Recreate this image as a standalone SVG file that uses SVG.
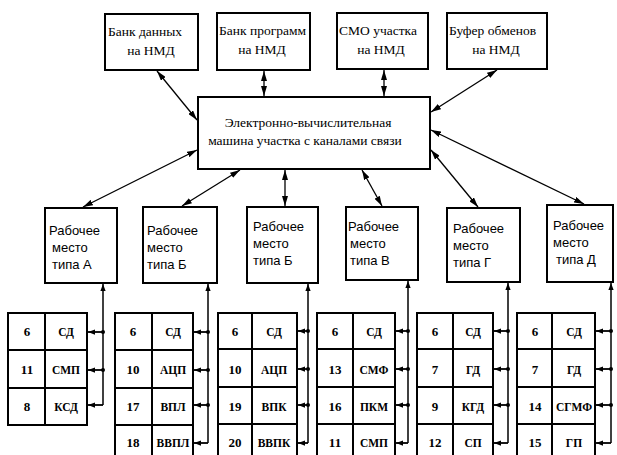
<svg xmlns="http://www.w3.org/2000/svg" width="617" height="455" viewBox="0 0 617 455">
  <defs>
    <marker id="ah" viewBox="0 0 10 6" refX="10" refY="3" markerWidth="10" markerHeight="6" markerUnits="userSpaceOnUse" orient="auto-start-reverse">
      <path d="M0,0 L10,3 L0,6 Z" fill="#000"/>
    </marker>
    <marker id="sh" viewBox="0 0 8 6" refX="8" refY="3" markerWidth="7" markerHeight="6" markerUnits="userSpaceOnUse" orient="auto">
      <path d="M0,0 L8,3 L0,6 Z" fill="#000"/>
    </marker>
  </defs>
  <style>
    .box { fill: #fff; stroke: #000; stroke-width: 2; }
    .cell { fill: #fff; stroke: #000; stroke-width: 2; }
    .link { fill: none; stroke: #000; stroke-width: 1.3; }
    .bus { fill: none; stroke: #000; stroke-width: 1.5; }
    .stub { fill: none; stroke: #000; stroke-width: 1.8; }
    .dot { fill: #000; }
    .t { font-family: "Liberation Serif", "DejaVu Serif", serif; font-size: 13.5px; fill: #000; }
    .tm { font-family: "Liberation Serif", "DejaVu Serif", serif; font-size: 13.5px; fill: #000; }
    .tw { font-family: "Liberation Sans", "DejaVu Sans", sans-serif; font-size: 13px; fill: #000; }
    .n { font-family: "Liberation Serif", "DejaVu Serif", serif; font-size: 13px; font-weight: bold; fill: #000; text-anchor: middle; }
    .c { font-family: "Liberation Serif", "DejaVu Serif", serif; font-size: 11.5px; font-weight: bold; fill: #000; text-anchor: middle; }
  </style>
  <rect width="617" height="455" fill="#fff"/>

  <!-- storage units -->
  <g id="bank-data">
    <rect class="box" x="105" y="14" width="93" height="56"/>
    <text class="t" x="108" y="36">Банк данных</text>
    <text class="t" x="151" y="55" text-anchor="middle">на НМД</text>
  </g>
  <g id="bank-programs">
    <rect class="box" x="217" y="13" width="93" height="57"/>
    <text class="t" x="219" y="35">Банк программ</text>
    <text class="t" x="262" y="54" text-anchor="middle">на НМД</text>
  </g>
  <g id="smo">
    <rect class="box" x="337" y="13" width="91" height="56"/>
    <text class="t" x="339" y="35">СМО участка</text>
    <text class="t" x="381" y="54" text-anchor="middle">на НМД</text>
  </g>
  <g id="buffer">
    <rect class="box" x="447" y="13" width="100" height="56"/>
    <text class="t" x="449" y="35">Буфер обменов</text>
    <text class="t" x="496" y="54" text-anchor="middle">на НМД</text>
  </g>

  <!-- central computer -->
  <g id="computer">
    <rect class="box" x="198" y="97" width="232" height="72"/>
    <text class="tm" x="308" y="127" text-anchor="middle">Электронно-вычислительная</text>
    <text class="tm" x="305" y="145" text-anchor="middle">машина участка с каналами связи</text>
  </g>

  <!-- workstations -->
  <g id="ws-a">
    <rect class="box" x="45" y="208" width="72" height="75"/>
    <text class="tw" x="49" y="235">Рабочее</text>
    <text class="tw" x="52" y="252">место</text>
    <text class="tw" x="52" y="269">типа А</text>
  </g>
  <g id="ws-b1">
    <rect class="box" x="143" y="207" width="74" height="76"/>
    <text class="tw" x="147" y="235">Рабочее</text>
    <text class="tw" x="147" y="252">место</text>
    <text class="tw" x="147" y="269">типа Б</text>
  </g>
  <g id="ws-b2">
    <rect class="box" x="247" y="207" width="71" height="76"/>
    <text class="tw" x="253" y="231">Рабочее</text>
    <text class="tw" x="253" y="248">место</text>
    <text class="tw" x="253" y="265">типа Б</text>
  </g>
  <g id="ws-v">
    <rect class="box" x="346" y="207" width="72" height="73"/>
    <text class="tw" x="348" y="231">Рабочее</text>
    <text class="tw" x="350" y="248">место</text>
    <text class="tw" x="350" y="265">типа В</text>
  </g>
  <g id="ws-g">
    <rect class="box" x="447" y="208" width="73" height="74"/>
    <text class="tw" x="453" y="233">Рабочее</text>
    <text class="tw" x="453" y="250">место</text>
    <text class="tw" x="453" y="267">типа Г</text>
  </g>
  <g id="ws-d">
    <rect class="box" x="547" y="205" width="66" height="77"/>
    <text class="tw" x="553" y="230">Рабочее</text>
    <text class="tw" x="553" y="247">место</text>
    <text class="tw" x="556" y="264">типа Д</text>
  </g>

  <!-- device tables -->
  <g id="dev-a">
    <rect class="cell" x="8" y="313" width="79" height="112"/>
    <path class="cell" d="M45,313 V425 M8,350 H87 M8,388 H87"/>
    <text class="n" x="27" y="336">6</text><text class="c" x="66" y="336">СД</text>
    <text class="n" x="27" y="374">11</text><text class="c" x="66" y="374">СМП</text>
    <text class="n" x="27" y="411">8</text><text class="c" x="66" y="411">КСД</text>
  </g>
  <g id="dev-b1">
    <path class="cell" d="M115,456 V313 H193 V456 M152,313 V456 M115,350 H193 M115,388 H193 M115,425 H193"/>
    <text class="n" x="133" y="336">6</text><text class="c" x="173" y="336">СД</text>
    <text class="n" x="133" y="374">10</text><text class="c" x="173" y="374">АЦП</text>
    <text class="n" x="133" y="411">17</text><text class="c" x="173" y="411">ВПЛ</text>
    <text class="n" x="133" y="447">18</text><text class="c" x="173" y="447">ВВПЛ</text>
  </g>
  <g id="dev-b2">
    <path class="cell" d="M218,456 V313 H297 V456 M252,313 V456 M218,349 H297 M218,387 H297 M218,424 H297"/>
    <text class="n" x="235" y="336">6</text><text class="c" x="274" y="336">СД</text>
    <text class="n" x="235" y="374">10</text><text class="c" x="274" y="374">АЦП</text>
    <text class="n" x="235" y="411">19</text><text class="c" x="274" y="411">ВПК</text>
    <text class="n" x="235" y="447">20</text><text class="c" x="274" y="447">ВВПК</text>
  </g>
  <g id="dev-v">
    <path class="cell" d="M317,456 V313 H395 V456 M353,313 V456 M317,349 H395 M317,387 H395 M317,424 H395"/>
    <text class="n" x="335" y="336">6</text><text class="c" x="374" y="336">СД</text>
    <text class="n" x="335" y="374">13</text><text class="c" x="374" y="374">СМФ</text>
    <text class="n" x="335" y="411">16</text><text class="c" x="374" y="411">ПКМ</text>
    <text class="n" x="335" y="447">11</text><text class="c" x="374" y="447">СМП</text>
  </g>
  <g id="dev-g">
    <path class="cell" d="M417,456 V313 H493 V456 M453,313 V456 M417,349 H493 M417,387 H493 M417,424 H493"/>
    <text class="n" x="435" y="336">6</text><text class="c" x="473" y="336">СД</text>
    <text class="n" x="435" y="374">7</text><text class="c" x="473" y="374">ГД</text>
    <text class="n" x="435" y="411">9</text><text class="c" x="473" y="411">КГД</text>
    <text class="n" x="435" y="447">12</text><text class="c" x="473" y="447">СП</text>
  </g>
  <g id="dev-d">
    <path class="cell" d="M517,456 V313 H595 V456 M552,313 V456 M517,349 H595 M517,387 H595 M517,424 H595"/>
    <text class="n" x="535" y="336">6</text><text class="c" x="574" y="336">СД</text>
    <text class="n" x="535" y="374">7</text><text class="c" x="574" y="374">ГД</text>
    <text class="n" x="535" y="411">14</text><text class="c" x="574" y="411">СГМФ</text>
    <text class="n" x="535" y="447">15</text><text class="c" x="574" y="447">ГП</text>
  </g>

  <!-- connectors -->
  <g id="connectors">
    <!-- storage units to computer -->
    <line class="link" x1="157" y1="71" x2="197" y2="120" marker-start="url(#ah)" marker-end="url(#ah)"/>
    <line class="link" x1="264" y1="71" x2="264" y2="96" marker-start="url(#ah)" marker-end="url(#ah)"/>
    <line class="link" x1="384" y1="70" x2="384" y2="96" marker-start="url(#ah)" marker-end="url(#ah)"/>
    <line class="link" x1="497" y1="70" x2="431" y2="112" marker-start="url(#ah)" marker-end="url(#ah)"/>
    <!-- computer to workstations -->
    <line class="link" x1="197" y1="150" x2="83" y2="207" marker-start="url(#ah)" marker-end="url(#ah)"/>
    <line class="link" x1="240" y1="170" x2="182" y2="206" marker-start="url(#ah)" marker-end="url(#ah)"/>
    <line class="link" x1="285" y1="170" x2="285" y2="206" marker-start="url(#ah)" marker-end="url(#ah)"/>
    <line class="link" x1="362" y1="170" x2="382" y2="206" marker-start="url(#ah)" marker-end="url(#ah)"/>
    <line class="link" x1="431" y1="150" x2="478" y2="207" marker-start="url(#ah)" marker-end="url(#ah)"/>
    <line class="link" x1="431" y1="130" x2="584" y2="204" marker-start="url(#ah)" marker-end="url(#ah)"/>

    <!-- device buses, workstation A -->
    <line class="bus" x1="103" y1="405" x2="103" y2="284" marker-end="url(#sh)"/>
    <line class="stub" x1="103" y1="332" x2="88" y2="332" marker-end="url(#sh)"/>
    <line class="stub" x1="103" y1="370" x2="88" y2="370" marker-end="url(#sh)"/>
    <line class="stub" x1="103" y1="405" x2="88" y2="405" marker-end="url(#sh)"/>
    <circle class="dot" cx="103" cy="332" r="2"/><circle class="dot" cx="103" cy="370" r="2"/>

    <!-- workstation B -->
    <line class="bus" x1="208" y1="443" x2="208" y2="284" marker-end="url(#sh)"/>
    <line class="stub" x1="208" y1="332" x2="194" y2="332" marker-end="url(#sh)"/>
    <line class="stub" x1="208" y1="370" x2="194" y2="370" marker-end="url(#sh)"/>
    <line class="stub" x1="208" y1="405" x2="194" y2="405" marker-end="url(#sh)"/>
    <line class="stub" x1="208" y1="443" x2="194" y2="443" marker-end="url(#sh)"/>
    <circle class="dot" cx="208" cy="332" r="2"/><circle class="dot" cx="208" cy="370" r="2"/><circle class="dot" cx="208" cy="405" r="2"/>

    <!-- workstation B (second) -->
    <line class="bus" x1="308" y1="443" x2="308" y2="284" marker-end="url(#sh)"/>
    <line class="stub" x1="308" y1="331" x2="298" y2="331" marker-end="url(#sh)"/>
    <line class="stub" x1="308" y1="369" x2="298" y2="369" marker-end="url(#sh)"/>
    <line class="stub" x1="308" y1="405" x2="298" y2="405" marker-end="url(#sh)"/>
    <line class="stub" x1="308" y1="443" x2="298" y2="443" marker-end="url(#sh)"/>
    <circle class="dot" cx="308" cy="331" r="2"/><circle class="dot" cx="308" cy="369" r="2"/><circle class="dot" cx="308" cy="405" r="2"/>

    <!-- workstation V -->
    <line class="bus" x1="408" y1="443" x2="408" y2="281" marker-end="url(#sh)"/>
    <line class="stub" x1="408" y1="331" x2="396" y2="331" marker-end="url(#sh)"/>
    <line class="stub" x1="408" y1="369" x2="396" y2="369" marker-end="url(#sh)"/>
    <line class="stub" x1="408" y1="405" x2="396" y2="405" marker-end="url(#sh)"/>
    <line class="stub" x1="408" y1="443" x2="396" y2="443" marker-end="url(#sh)"/>
    <circle class="dot" cx="408" cy="331" r="2"/><circle class="dot" cx="408" cy="369" r="2"/><circle class="dot" cx="408" cy="405" r="2"/>

    <!-- workstation G -->
    <line class="bus" x1="508" y1="443" x2="508" y2="283" marker-end="url(#sh)"/>
    <line class="stub" x1="508" y1="331" x2="494" y2="331" marker-end="url(#sh)"/>
    <line class="stub" x1="508" y1="369" x2="494" y2="369" marker-end="url(#sh)"/>
    <line class="stub" x1="508" y1="405" x2="494" y2="405" marker-end="url(#sh)"/>
    <line class="stub" x1="508" y1="443" x2="494" y2="443" marker-end="url(#sh)"/>
    <circle class="dot" cx="508" cy="331" r="2"/><circle class="dot" cx="508" cy="369" r="2"/><circle class="dot" cx="508" cy="405" r="2"/>

    <!-- workstation D -->
    <line class="bus" x1="611" y1="443" x2="611" y2="283" marker-end="url(#sh)"/>
    <line class="stub" x1="611" y1="331" x2="596" y2="331" marker-end="url(#sh)"/>
    <line class="stub" x1="611" y1="369" x2="596" y2="369" marker-end="url(#sh)"/>
    <line class="stub" x1="611" y1="405" x2="596" y2="405" marker-end="url(#sh)"/>
    <line class="stub" x1="611" y1="443" x2="596" y2="443" marker-end="url(#sh)"/>
    <circle class="dot" cx="611" cy="331" r="2"/><circle class="dot" cx="611" cy="369" r="2"/><circle class="dot" cx="611" cy="405" r="2"/>
  </g>
</svg>
